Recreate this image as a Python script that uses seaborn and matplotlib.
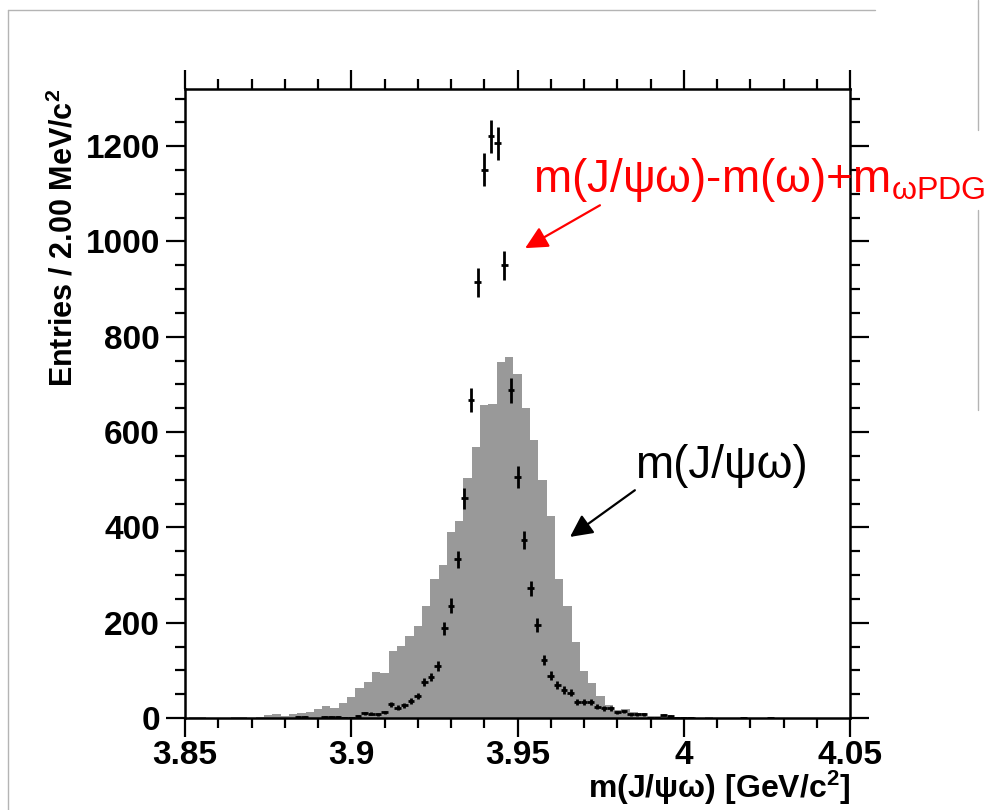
import numpy as np
import pandas as pd
import matplotlib
matplotlib.use('Agg')
import matplotlib.pyplot as plt
import seaborn as sns
from matplotlib.ticker import MultipleLocator, FuncFormatter
from matplotlib.lines import Line2D

# histograma cinza: m(J/psi omega), bins de 2.5 MeV centrados em 3.85 + 0.0025*k
hist_centers = [round(3.85 + 0.0025 * k, 4) for k in range(81)]
hist_counts = [1, 3, 3, 1, 1, 1, 3, 3, 1, 2,
               6, 8, 4, 8, 10, 12, 18, 25, 20, 31,
               44, 62, 76, 97, 94, 141, 152, 172, 193, 234,
               291, 321, 391, 413, 504, 569, 656, 660, 748, 757,
               722, 650, 584, 500, 424, 291, 235, 159, 99, 74,
               46, 27, 16, 19, 12, 10, 4, 4, 3, 2,
               3, 2, 1, 2, 1, 1, 1, 1, 1, 1,
               1, 1, 1, 1, 1, 1, 1, 1, 1, 1, 1]
hist_edges = [round(3.84875 + 0.0025 * k, 5) for k in range(82)]

# pontos: m(J/psi omega)-m(omega)+m_omegaPDG, bins de 2 MeV
pts_centers = [round(3.85 + 0.002 * i, 3) for i in range(101)]
pts_counts = [0] * 17 + [2, 2, 0, 0, 2, 2, 2, 1, 1,
              5, 10, 9, 8, 12, 29, 22, 27, 36, 46,
              76, 86, 110, 188, 236, 333, 461, 667, 914, 1151,
              1221, 1206, 950, 688, 506, 373, 272, 195, 122, 89,
              70, 59, 53, 34, 34, 34, 24, 20, 20, 12,
              14, 8, 8, 8, 1, 1, 6, 5, 1, 1,
              1, 0, 0, 0, 0, 0, 0, 0, 1, 0,
              0, 0, 1, 0, 0, 0, 0, 0, 0, 0,
              0, 0, 0, 0, 0]

df_h = pd.DataFrame({'m': hist_centers, 'n': hist_counts})
df_p = pd.DataFrame({'m': pts_centers, 'n': pts_counts})
df_p = df_p[df_p['n'] > 0]

sns.set_style('ticks', {'axes.edgecolor': 'black', 'axes.labelcolor': 'black',
                        'xtick.color': 'black', 'ytick.color': 'black',
                        'text.color': 'black'})
plt.rcParams['font.family'] = ['Liberation Sans', 'DejaVu Sans']
plt.rcParams['mathtext.fontset'] = 'custom'
plt.rcParams['mathtext.rm'] = 'Liberation Sans'
plt.rcParams['mathtext.it'] = 'Liberation Sans'
plt.rcParams['mathtext.bf'] = 'Liberation Sans:bold'

fig = plt.figure(figsize=(9.9, 8.1), dpi=100)
ax = fig.add_axes([185 / 990, 1 - 718 / 810, 665 / 990, 629 / 810])

sns.histplot(data=df_h, x='m', weights='n', bins=hist_edges, element='step',
             fill=True, color='#999999', alpha=1, linewidth=0, ax=ax)

ax.errorbar(df_p['m'], df_p['n'], yerr=np.sqrt(df_p['n']), xerr=0.001,
            fmt='none', ecolor='black', elinewidth=2.0, capsize=0)

ax.set_xlim(3.85, 4.05)
ax.set_ylim(0, 1320)
ax.xaxis.set_major_locator(MultipleLocator(0.05))
ax.xaxis.set_minor_locator(MultipleLocator(0.01))
ax.yaxis.set_major_locator(MultipleLocator(200))
ax.yaxis.set_minor_locator(MultipleLocator(50))
ax.xaxis.set_major_formatter(FuncFormatter(lambda v, p: '%g' % round(v, 3)))

ax.tick_params(which='both', direction='out', top=True, right=True, width=1.6,
               color='black', labelcolor='black')
ax.tick_params(which='major', length=14, labelsize=24, pad=4)
ax.tick_params(axis='x', which='major', pad=2)
ax.tick_params(which='minor', length=7)
for lab in ax.get_xticklabels() + ax.get_yticklabels():
    lab.set_fontweight('bold')
for s in ax.spines.values():
    s.set_linewidth(1.8)
    s.set_color('black')

ax.set_xlabel(r'm(J/ψω) [GeV/c$^{\mathbf{2}}$]', fontsize=23, fontweight='bold',
              ha='right', x=1.0, color='black')
ax.set_ylabel(r'Entries / 2.00 MeV/c$^{\mathbf{2}}$', fontsize=22, fontweight='bold',
              ha='right', y=1.0, color='black')
ax.xaxis.set_label_coords(1.0, -0.08)
ax.yaxis.set_label_coords(-0.158, 1.0)

# anotações
ax.text(3.9547, 1103, r'm(J/ψω)-m(ω)+m$_{\mathregular{ωPDG}}$', color='red',
        fontsize=33, ha='left', va='baseline', clip_on=False)
ax.annotate('', xy=(3.9523, 986), xytext=(3.9748, 1076),
            arrowprops=dict(arrowstyle='-|>', color='red', lw=1.6,
                            mutation_scale=34, shrinkA=0, shrinkB=0))
ax.text(3.9853, 503, 'm(J/ψω)', color='black', fontsize=33,
        ha='left', va='baseline')
ax.annotate('', xy=(3.9658, 380), xytext=(3.9853, 478),
            arrowprops=dict(arrowstyle='-|>', color='black', lw=1.6,
                            mutation_scale=34, shrinkA=0, shrinkB=0))

# bordas do slide
g = '#b4b4b4'
fig.add_artist(Line2D([8 / 990, 875 / 990], [1 - 10 / 810, 1 - 10 / 810],
                      transform=fig.transFigure, color=g, lw=1))
fig.add_artist(Line2D([8 / 990, 8 / 990], [0, 1 - 10 / 810],
                      transform=fig.transFigure, color=g, lw=1))
fig.add_artist(Line2D([978 / 990, 978 / 990], [1 - 130 / 810, 1],
                      transform=fig.transFigure, color=g, lw=1))
fig.add_artist(Line2D([978 / 990, 978 / 990], [1 - 410 / 810, 1 - 210 / 810],
                      transform=fig.transFigure, color=g, lw=1))

fig.savefig('out.png', dpi=100)
